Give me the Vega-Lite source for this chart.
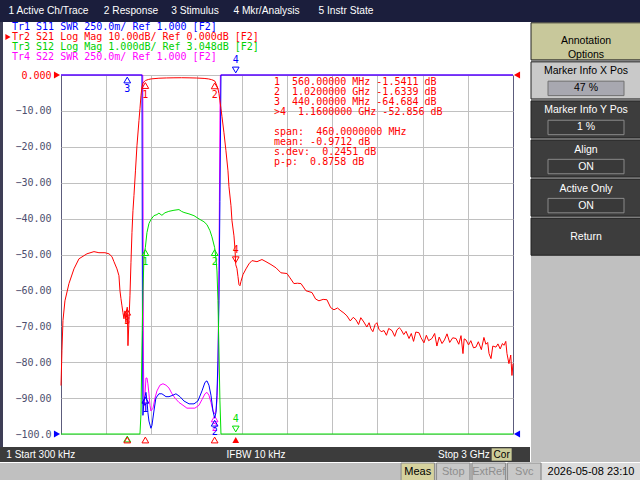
{
  "$schema": "https://vega.github.io/schema/vega-lite/v6.json",
  "background": "white",
  "padding": 0,
  "spacing": 0,
  "config": {"view": {"stroke": null}, "text": {"font": "Liberation Sans"}, "concat": {"spacing": 0}},
  "datasets": {
    "s21": [
      {"f": 0.3, "v": -86.5}, {"f": 6.6, "v": -76.8}, {"f": 13.3, "v": -68.4}, {"f": 26.5, "v": -62.9}, {"f": 53.1, "v": -58.1},
      {"f": 86.3, "v": -54.0}, {"f": 119.5, "v": -51.2}, {"f": 172.6, "v": -49.8}, {"f": 219, "v": -49.2}, {"f": 252, "v": -49.5},
      {"f": 292, "v": -49.5}, {"f": 318.6, "v": -49.8}, {"f": 338.5, "v": -50.6}, {"f": 351.8, "v": -52.0}, {"f": 371.7, "v": -54.0},
      {"f": 384.9, "v": -55.9}, {"f": 391.6, "v": -60.1}, {"f": 398.2, "v": -62.3}, {"f": 404.9, "v": -64.3}, {"f": 411.5, "v": -66.2},
      {"f": 418.1, "v": -67.9}, {"f": 424.8, "v": -65.7}, {"f": 431.4, "v": -69.0}, {"f": 434.7, "v": -66.2}, {"f": 440, "v": -64.684},
      {"f": 444.7, "v": -75.4}, {"f": 451.3, "v": -68.4}, {"f": 458, "v": -61.5}, {"f": 464.6, "v": -52.3}, {"f": 471.2, "v": -43.9},
      {"f": 477.9, "v": -37.8}, {"f": 484.5, "v": -33.6}, {"f": 494.5, "v": -26.7}, {"f": 504.4, "v": -19.7}, {"f": 517.7, "v": -12.7},
      {"f": 524.3, "v": -9.4}, {"f": 531, "v": -5.8}, {"f": 537.6, "v": -3.3}, {"f": 544.2, "v": -2.2}, {"f": 560, "v": -1.5411},
      {"f": 580, "v": -1.25}, {"f": 600, "v": -1.08}, {"f": 650, "v": -0.9}, {"f": 700, "v": -0.82}, {"f": 750, "v": -0.78},
      {"f": 800, "v": -0.76}, {"f": 850, "v": -0.79}, {"f": 900, "v": -0.84}, {"f": 950, "v": -0.95}, {"f": 980, "v": -1.1},
      {"f": 1000, "v": -1.3}, {"f": 1020, "v": -1.6339}, {"f": 1028.7, "v": -2.4}, {"f": 1042, "v": -3.8}, {"f": 1048.6, "v": -5.2},
      {"f": 1055, "v": -7.2}, {"f": 1062, "v": -9.4}, {"f": 1068.6, "v": -11.6}, {"f": 1081.8, "v": -16.1}, {"f": 1095, "v": -21.1},
      {"f": 1108.4, "v": -26.7}, {"f": 1115, "v": -31.1}, {"f": 1128.3, "v": -36.4}, {"f": 1135, "v": -40.6}, {"f": 1148.2, "v": -44.8},
      {"f": 1155, "v": -48.5}, {"f": 1160, "v": -52.856}, {"f": 1168, "v": -53.9}, {"f": 1174.7, "v": -56.1}, {"f": 1181.4, "v": -58.4},
      {"f": 1188, "v": -58.7}, {"f": 1194.7, "v": -57.5}, {"f": 1208, "v": -55.6}, {"f": 1228, "v": -54.0}, {"f": 1247.8, "v": -52.6},
      {"f": 1267.7, "v": -51.7}, {"f": 1300.9, "v": -52.0}, {"f": 1334, "v": -51.4}, {"f": 1360.6, "v": -52.0}, {"f": 1393.8, "v": -52.8},
      {"f": 1427, "v": -53.7}, {"f": 1460, "v": -55.1}, {"f": 1500, "v": -55.3}, {"f": 1520, "v": -56.5}, {"f": 1546, "v": -58.1},
      {"f": 1570, "v": -58.0}, {"f": 1593, "v": -58.1}, {"f": 1626, "v": -60.1}, {"f": 1666, "v": -60.6}, {"f": 1690, "v": -62.4},
      {"f": 1712, "v": -62.9}, {"f": 1740, "v": -62.5}, {"f": 1765, "v": -62.6}, {"f": 1790, "v": -64.8}, {"f": 1812, "v": -65.4},
      {"f": 1835, "v": -64.9}, {"f": 1858, "v": -65.7}, {"f": 1878, "v": -66.3}, {"f": 1898, "v": -67.1}, {"f": 1920, "v": -68.5},
      {"f": 1940, "v": -67.5}, {"f": 1958, "v": -68.2}, {"f": 1975, "v": -69.5}, {"f": 1990, "v": -67.6}, {"f": 2010, "v": -68.8},
      {"f": 2030, "v": -70.2}, {"f": 2045, "v": -69.0}, {"f": 2057, "v": -70.7}, {"f": 2070, "v": -71.5}, {"f": 2085, "v": -69.5},
      {"f": 2097, "v": -69.0}, {"f": 2110, "v": -70.8}, {"f": 2125, "v": -71.5}, {"f": 2144, "v": -71.2}, {"f": 2160, "v": -72.5},
      {"f": 2175, "v": -70.6}, {"f": 2197, "v": -71.2}, {"f": 2215, "v": -72.8}, {"f": 2230, "v": -71.0}, {"f": 2245, "v": -70.4},
      {"f": 2257, "v": -70.9}, {"f": 2275, "v": -72.3}, {"f": 2290, "v": -71.4}, {"f": 2310, "v": -73.4}, {"f": 2325, "v": -72.0},
      {"f": 2340, "v": -74.2}, {"f": 2355, "v": -71.6}, {"f": 2376, "v": -71.8}, {"f": 2390, "v": -73.2}, {"f": 2409, "v": -74.6},
      {"f": 2425, "v": -72.5}, {"f": 2440, "v": -74.0}, {"f": 2462, "v": -73.4}, {"f": 2480, "v": -72.0}, {"f": 2495, "v": -75.5},
      {"f": 2510, "v": -73.0}, {"f": 2529, "v": -74.8}, {"f": 2545, "v": -73.8}, {"f": 2562, "v": -72.1}, {"f": 2580, "v": -74.5},
      {"f": 2600, "v": -73.2}, {"f": 2622, "v": -73.4}, {"f": 2640, "v": -75.0}, {"f": 2655, "v": -72.6}, {"f": 2668, "v": -77.6},
      {"f": 2676, "v": -73.5}, {"f": 2688, "v": -73.8}, {"f": 2705, "v": -75.2}, {"f": 2720, "v": -74.0}, {"f": 2738, "v": -76.0},
      {"f": 2754, "v": -75.8}, {"f": 2770, "v": -74.3}, {"f": 2790, "v": -76.5}, {"f": 2807, "v": -73.1}, {"f": 2820, "v": -75.0},
      {"f": 2832, "v": -74.5}, {"f": 2841, "v": -77.6}, {"f": 2854, "v": -79.0}, {"f": 2866, "v": -75.5}, {"f": 2887, "v": -75.8},
      {"f": 2900, "v": -74.9}, {"f": 2915, "v": -76.3}, {"f": 2930, "v": -74.8}, {"f": 2940, "v": -75.3}, {"f": 2952, "v": -74.2},
      {"f": 2960, "v": -77.6}, {"f": 2973, "v": -80.4}, {"f": 2985, "v": -78.0}, {"f": 2993, "v": -83.7}, {"f": 3000, "v": -80.4}
    ],
    "s12": [
      {"f": 0.3, "v": -6.952}, {"f": 524.3, "v": -6.952}, {"f": 531, "v": -6.4}, {"f": 537.6, "v": -4.5}, {"f": 544.2, "v": -3.0},
      {"f": 551, "v": -2.01}, {"f": 560, "v": -1.76}, {"f": 570.8, "v": -1.34}, {"f": 584, "v": -1.09}, {"f": 597, "v": -0.98},
      {"f": 617, "v": -0.87}, {"f": 637, "v": -0.84}, {"f": 650, "v": -0.8}, {"f": 670, "v": -0.86}, {"f": 690, "v": -0.79},
      {"f": 716, "v": -0.75}, {"f": 750, "v": -0.72}, {"f": 783, "v": -0.7}, {"f": 800, "v": -0.75}, {"f": 816, "v": -0.78},
      {"f": 849.5, "v": -0.82}, {"f": 882.7, "v": -0.87}, {"f": 916, "v": -0.96}, {"f": 949, "v": -1.04}, {"f": 969, "v": -1.12},
      {"f": 989, "v": -1.29}, {"f": 1002, "v": -1.46}, {"f": 1020, "v": -1.76}, {"f": 1029, "v": -2.07}, {"f": 1035.4, "v": -2.41},
      {"f": 1042, "v": -3.24}, {"f": 1048.6, "v": -4.64}, {"f": 1055, "v": -6.03}, {"f": 1062, "v": -6.952}, {"f": 3000, "v": -6.952}
    ],
    "s11": [
      {"f": 0.3, "v": 3.5}, {"f": 537.6, "v": 3.5}, {"f": 541, "v": 1.72}, {"f": 544, "v": 1.13}, {"f": 551, "v": 1.23},
      {"f": 560, "v": 1.27}, {"f": 564, "v": 1.29}, {"f": 571, "v": 1.23}, {"f": 577, "v": 1.15}, {"f": 584, "v": 1.09},
      {"f": 597, "v": 1.04}, {"f": 604, "v": 1.06}, {"f": 617, "v": 1.16}, {"f": 630, "v": 1.25}, {"f": 650, "v": 1.28},
      {"f": 670, "v": 1.28}, {"f": 697, "v": 1.26}, {"f": 717, "v": 1.26}, {"f": 743, "v": 1.27}, {"f": 763, "v": 1.28},
      {"f": 790, "v": 1.26}, {"f": 816, "v": 1.23}, {"f": 850, "v": 1.21}, {"f": 883, "v": 1.21}, {"f": 909, "v": 1.23},
      {"f": 936, "v": 1.3}, {"f": 956, "v": 1.36}, {"f": 969, "v": 1.37}, {"f": 982, "v": 1.34}, {"f": 995.6, "v": 1.27},
      {"f": 1009, "v": 1.16}, {"f": 1020, "v": 1.11}, {"f": 1029, "v": 1.15}, {"f": 1035, "v": 1.27}, {"f": 1042, "v": 1.51},
      {"f": 1048.6, "v": 1.93}, {"f": 1055, "v": 2.62}, {"f": 1062, "v": 3.5}, {"f": 3000, "v": 3.5}
    ],
    "s22": [
      {"f": 0.3, "v": 3.5}, {"f": 543, "v": 3.5}, {"f": 547.5, "v": 1.51}, {"f": 551, "v": 1.2}, {"f": 557.6, "v": 1.27},
      {"f": 564, "v": 1.39}, {"f": 571, "v": 1.39}, {"f": 577, "v": 1.35}, {"f": 584, "v": 1.28}, {"f": 591, "v": 1.2},
      {"f": 597, "v": 1.16}, {"f": 611, "v": 1.18}, {"f": 624, "v": 1.25}, {"f": 637, "v": 1.3}, {"f": 657, "v": 1.34},
      {"f": 677, "v": 1.35}, {"f": 697, "v": 1.34}, {"f": 717, "v": 1.32}, {"f": 737, "v": 1.28}, {"f": 757, "v": 1.25},
      {"f": 783, "v": 1.22}, {"f": 810, "v": 1.2}, {"f": 836, "v": 1.18}, {"f": 863, "v": 1.18}, {"f": 889, "v": 1.18},
      {"f": 916, "v": 1.2}, {"f": 936, "v": 1.24}, {"f": 956, "v": 1.28}, {"f": 969, "v": 1.29}, {"f": 982, "v": 1.27},
      {"f": 995.6, "v": 1.22}, {"f": 1009, "v": 1.16}, {"f": 1020, "v": 1.14}, {"f": 1029, "v": 1.16}, {"f": 1035, "v": 1.23},
      {"f": 1042, "v": 1.44}, {"f": 1048.6, "v": 2.14}, {"f": 1055, "v": 3.18}, {"f": 1058, "v": 3.5}, {"f": 3000, "v": 3.5}
    ],
    "mk": [
      {"tr": "Tr1", "m": 1, "f": 560, "v": 1.27}, {"tr": "Tr1", "m": 2, "f": 1020, "v": 1.11},
      {"tr": "Tr1", "m": 3, "f": 440, "v": 3.5}, {"tr": "Tr1", "m": 4, "f": 1160, "v": 3.5},
      {"tr": "Tr2", "m": 1, "f": 560, "v": -1.5411}, {"tr": "Tr2", "m": 2, "f": 1020, "v": -1.6339},
      {"tr": "Tr2", "m": 3, "f": 440, "v": -64.684}, {"tr": "Tr2", "m": 4, "f": 1160, "v": -52.856},
      {"tr": "Tr3", "m": 1, "f": 560, "v": -1.76}, {"tr": "Tr3", "m": 2, "f": 1020, "v": -1.76},
      {"tr": "Tr3", "m": 3, "f": 440, "v": -6.952}, {"tr": "Tr3", "m": 4, "f": 1160, "v": -6.952},
      {"tr": "Tr4", "m": 1, "f": 560, "v": 1.27}, {"tr": "Tr4", "m": 2, "f": 1020, "v": 1.14},
      {"tr": "Tr4", "m": 3, "f": 440, "v": 3.5}, {"tr": "Tr4", "m": 4, "f": 1160, "v": 3.5}
    ],
    "refs": [
      {"tr": "Tr2", "side": "L", "f": 0.3, "v": 0}, {"tr": "Tr2", "side": "R", "f": 3000, "v": 0},
      {"tr": "Tr1", "side": "L", "f": 0.3, "v": 1}, {"tr": "Tr1", "side": "R", "f": 3000, "v": 1}
    ]
  },
  "vconcat": [
    {
      "hconcat": [
        {"width": 97, "height": 22, "view": {"fill": "#1b1e3c"}, "data": {"values": [{"item": "1 Active Ch/Trace"}]}, "mark": {"type": "text", "color": "white", "fontSize": 10.2}, "encoding": {"text": {"field": "item"}}},
        {"width": 68, "height": 22, "view": {"fill": "#1b1e3c"}, "data": {"values": [{"item": "2 Response"}]}, "mark": {"type": "text", "color": "white", "fontSize": 10.2}, "encoding": {"text": {"field": "item"}}},
        {"width": 60, "height": 22, "view": {"fill": "#1b1e3c"}, "data": {"values": [{"item": "3 Stimulus"}]}, "mark": {"type": "text", "color": "white", "fontSize": 10.2}, "encoding": {"text": {"field": "item"}}},
        {"width": 83, "height": 22, "view": {"fill": "#1b1e3c"}, "data": {"values": [{"item": "4 Mkr/Analysis"}]}, "mark": {"type": "text", "color": "white", "fontSize": 10.2}, "encoding": {"text": {"field": "item"}}},
        {"width": 76, "height": 22, "view": {"fill": "#1b1e3c"}, "data": {"values": [{"item": "5 Instr State"}]}, "mark": {"type": "text", "color": "white", "fontSize": 10.2}, "encoding": {"text": {"field": "item"}}},
        {"width": 256, "height": 22, "view": {"fill": "#1b1e3c"}, "data": {"values": []}, "mark": "text", "encoding": {}}
      ],
      "spacing": 0
    },
    {
      "hconcat": [
        {
          "vconcat": [
            {
              "hconcat": [
                {"width": 3, "height": 425, "view": {"fill": "#3e3e56"}, "data": {"values": []}, "mark": "text", "encoding": {}},
                {"width": 11, "height": 425, "view": {"fill": "white"}, "data": {"values": []}, "mark": "text", "encoding": {}},
                {
                  "vconcat": [
                    {"width": 452, "height": 32, "view": {"fill": "white"}, "data": {"values": []}, "mark": "text", "encoding": {}},
                    {
                      "width": 452,
                      "height": 359,
                      "view": {"stroke": "#5c5c7c", "fill": "white"},
                      "encoding": {
                        "x": {
                          "field": "f",
                          "type": "quantitative",
                          "scale": {"domain": [0.3, 3000], "nice": false, "zero": false},
                          "axis": {"values": [300, 600, 900, 1200, 1500, 1800, 2100, 2400, 2700], "grid": true, "gridColor": "#c0c0c0", "labels": false, "ticks": false, "domain": false, "title": null}
                        }
                      },
                      "layer": [
                        {
                          "data": {"name": "s22"},
                          "encoding": {"y": {"field": "v", "type": "quantitative", "scale": {"domain": [1, 3.5], "nice": false, "zero": false}, "axis": null}},
                          "layer": [
                            {
                              "mark": {"type": "line", "strokeWidth": 1},
                              "encoding": {
                                "color": {
                                  "datum": "Tr4",
                                  "scale": {"domain": ["Tr1", "Tr2", "Tr3", "Tr4"], "range": ["#0000ff", "#ff0000", "#00e000", "#ff00ff"]},
                                  "legend": {
                                    "orient": "none", "legendX": 3, "legendY": 22, "direction": "vertical", "title": null,
                                    "padding": 0, "rowPadding": 0, "labelFont": "DejaVu Sans Mono", "labelFontSize": 10, "labelLimit": 400,
                                    "labelOffset": -1, "symbolType": "triangle-right", "symbolSize": 36, "symbolStrokeWidth": 0,
                                    "labelExpr": "datum.label == 'Tr1' ? 'Tr1 S11 SWR 250.0m/ Ref 1.000 [F2]' : datum.label == 'Tr2' ? 'Tr2 S21 Log Mag 10.00dB/ Ref 0.000dB [F2]' : datum.label == 'Tr3' ? 'Tr3 S12 Log Mag 1.000dB/ Ref 3.048dB [F2]' : 'Tr4 S22 SWR 250.0m/ Ref 1.000 [F2]'",
                                    "encode": {
                                      "labels": {"update": {"fill": {"signal": "datum.value == 'Tr1' ? '#0000ff' : datum.value == 'Tr2' ? '#ff0000' : datum.value == 'Tr3' ? '#00d000' : '#ff00ff'"}}},
                                      "symbols": {"update": {"fill": {"value": "#ff0000"}, "opacity": {"signal": "datum.value == 'Tr2' ? 1 : 0"}}}
                                    }
                                  }
                                }
                              }
                            },
                            {"data": {"name": "mk"}, "transform": [{"filter": "datum.tr == 'Tr4' && datum.m < 3"}], "mark": {"type": "point", "shape": "triangle-up", "filled": false, "size": 45, "opacity": 1, "strokeWidth": 1, "yOffset": 5}, "encoding": {"color": {"datum": "Tr4"}}},
                            {"data": {"name": "mk"}, "transform": [{"filter": "datum.tr == 'Tr4' && datum.m < 3"}], "mark": {"type": "text", "font": "DejaVu Sans Mono", "fontSize": 10, "yOffset": 14}, "encoding": {"text": {"field": "m", "type": "nominal"}, "color": {"datum": "Tr4"}}}
                          ]
                        },
                        {
                          "data": {"name": "s11"},
                          "encoding": {"y": {"field": "v", "type": "quantitative", "scale": {"domain": [1, 3.5], "nice": false, "zero": false}, "axis": null}},
                          "layer": [
                            {"mark": {"type": "line", "strokeWidth": 1}, "encoding": {"color": {"datum": "Tr1"}}},
                            {"data": {"name": "refs"}, "transform": [{"filter": "datum.tr == 'Tr1' && datum.side == 'L'"}], "mark": {"type": "point", "shape": "triangle-right", "filled": true, "size": 50, "opacity": 1, "xOffset": -4}, "encoding": {"color": {"datum": "Tr1"}}},
                            {"data": {"name": "refs"}, "transform": [{"filter": "datum.tr == 'Tr1' && datum.side == 'R'"}], "mark": {"type": "point", "shape": "triangle-left", "filled": true, "size": 50, "opacity": 1, "xOffset": 4}, "encoding": {"color": {"datum": "Tr1"}}},
                            {"data": {"name": "mk"}, "transform": [{"filter": "datum.tr == 'Tr1' && datum.m < 4"}], "mark": {"type": "point", "shape": "triangle-up", "filled": false, "size": 45, "opacity": 1, "strokeWidth": 1, "yOffset": 5}, "encoding": {"color": {"datum": "Tr1"}}},
                            {"data": {"name": "mk"}, "transform": [{"filter": "datum.tr == 'Tr1' && datum.m < 4"}], "mark": {"type": "text", "font": "DejaVu Sans Mono", "fontSize": 10, "yOffset": 14}, "encoding": {"text": {"field": "m", "type": "nominal"}, "color": {"datum": "Tr1"}}},
                            {"data": {"name": "mk"}, "transform": [{"filter": "datum.tr == 'Tr1' && datum.m == 4"}], "mark": {"type": "point", "shape": "triangle-down", "filled": false, "size": 45, "opacity": 1, "strokeWidth": 1, "yOffset": -5}, "encoding": {"color": {"datum": "Tr1"}}},
                            {"data": {"name": "mk"}, "transform": [{"filter": "datum.tr == 'Tr1' && datum.m == 4"}], "mark": {"type": "text", "font": "DejaVu Sans Mono", "fontSize": 10, "yOffset": -15}, "encoding": {"text": {"field": "m", "type": "nominal"}, "color": {"datum": "Tr1"}}}
                          ]
                        },
                        {
                          "data": {"name": "s12"},
                          "encoding": {"y": {"field": "v", "type": "quantitative", "scale": {"domain": [-6.952, 3.048], "nice": false, "zero": false}, "axis": null}},
                          "layer": [
                            {"mark": {"type": "line", "strokeWidth": 1}, "encoding": {"color": {"datum": "Tr3"}}},
                            {"data": {"name": "mk"}, "transform": [{"filter": "datum.tr == 'Tr3' && datum.m < 4"}], "mark": {"type": "point", "shape": "triangle-up", "filled": false, "size": 45, "opacity": 1, "strokeWidth": 1, "yOffset": 5}, "encoding": {"color": {"datum": "Tr3"}}},
                            {"data": {"name": "mk"}, "transform": [{"filter": "datum.tr == 'Tr3' && datum.m < 3"}], "mark": {"type": "text", "font": "DejaVu Sans Mono", "fontSize": 10, "yOffset": 14}, "encoding": {"text": {"field": "m", "type": "nominal"}, "color": {"datum": "Tr3"}}},
                            {"data": {"name": "mk"}, "transform": [{"filter": "datum.tr == 'Tr3' && datum.m == 4"}], "mark": {"type": "point", "shape": "triangle-down", "filled": false, "size": 45, "opacity": 1, "strokeWidth": 1, "yOffset": -5}, "encoding": {"color": {"datum": "Tr3"}}},
                            {"data": {"name": "mk"}, "transform": [{"filter": "datum.tr == 'Tr3' && datum.m == 4"}], "mark": {"type": "text", "font": "DejaVu Sans Mono", "fontSize": 10, "yOffset": -15}, "encoding": {"text": {"field": "m", "type": "nominal"}, "color": {"datum": "Tr3"}}}
                          ]
                        },
                        {
                          "data": {"name": "s21"},
                          "encoding": {
                            "y": {
                              "field": "v",
                              "type": "quantitative",
                              "scale": {"domain": [-100, 0], "nice": false, "zero": false},
                              "axis": {
                                "orient": "left", "values": [0, -10, -20, -30, -40, -50, -60, -70, -80, -90, -100], "format": ".4g",
                                "grid": true, "gridColor": "#c0c0c0", "ticks": false, "tickSize": 0, "domain": false, "title": null,
                                "labelPadding": 10, "labelFont": "DejaVu Sans Mono", "labelFontSize": 10,
                                "labelColor": {"condition": {"test": "datum.value == 0", "value": "#ff0000"}, "value": "#4e4e6e"}
                              }
                            }
                          },
                          "layer": [
                            {"mark": {"type": "line", "strokeWidth": 1}, "encoding": {"color": {"datum": "Tr2"}}},
                            {"data": {"name": "refs"}, "transform": [{"filter": "datum.tr == 'Tr2' && datum.side == 'L'"}], "mark": {"type": "point", "shape": "triangle-right", "filled": true, "size": 50, "opacity": 1, "xOffset": -4}, "encoding": {"color": {"datum": "Tr2"}}},
                            {"data": {"name": "refs"}, "transform": [{"filter": "datum.tr == 'Tr2' && datum.side == 'R'"}], "mark": {"type": "point", "shape": "triangle-left", "filled": true, "size": 50, "opacity": 1, "xOffset": 4}, "encoding": {"color": {"datum": "Tr2"}}},
                            {"data": {"name": "mk"}, "transform": [{"filter": "datum.tr == 'Tr2' && datum.m < 4"}], "mark": {"type": "point", "shape": "triangle-up", "filled": false, "size": 45, "opacity": 1, "strokeWidth": 1, "yOffset": 5}, "encoding": {"color": {"datum": "Tr2"}}},
                            {"data": {"name": "mk"}, "transform": [{"filter": "datum.tr == 'Tr2' && datum.m < 4"}], "mark": {"type": "text", "font": "DejaVu Sans Mono", "fontSize": 10, "yOffset": 14}, "encoding": {"text": {"field": "m", "type": "nominal"}, "color": {"datum": "Tr2"}}},
                            {"data": {"name": "mk"}, "transform": [{"filter": "datum.tr == 'Tr2' && datum.m == 4"}], "mark": {"type": "point", "shape": "triangle-down", "filled": false, "size": 45, "opacity": 1, "strokeWidth": 1, "yOffset": -5}, "encoding": {"color": {"datum": "Tr2"}}},
                            {"data": {"name": "mk"}, "transform": [{"filter": "datum.tr == 'Tr2' && datum.m == 4"}], "mark": {"type": "text", "font": "DejaVu Sans Mono", "fontSize": 10, "yOffset": -15}, "encoding": {"text": {"field": "m", "type": "nominal"}, "color": {"datum": "Tr2"}}},
                            {"data": {"name": "mk"}, "transform": [{"filter": "datum.tr == 'Tr2' && datum.m < 4"}], "mark": {"type": "point", "shape": "triangle-up", "filled": false, "size": 45, "opacity": 1, "strokeWidth": 1, "yOffset": 6}, "encoding": {"y": {"datum": -100}, "color": {"datum": "Tr2"}}},
                            {"data": {"name": "mk"}, "transform": [{"filter": "datum.tr == 'Tr2' && datum.m == 4"}], "mark": {"type": "point", "shape": "triangle-up", "filled": true, "size": 45, "opacity": 1, "yOffset": 6}, "encoding": {"y": {"datum": -100}, "color": {"datum": "Tr2"}}},
                            {
                              "data": {"name": "mk"},
                              "transform": [{"filter": "false"}],
                              "mark": {"type": "point", "opacity": 0},
                              "encoding": {
                                "shape": {
                                  "field": "tr",
                                  "type": "nominal",
                                  "scale": {
                                    "domain": [
                                      "\u20071\u00a0\u00a0560.00000\u00a0MHz\u00a0-1.5411\u00a0dB",
                                      "\u20072\u00a0\u00a01.0200000\u00a0GHz\u00a0-1.6339\u00a0dB",
                                      "\u20073\u00a0\u00a0440.00000\u00a0MHz\u00a0-64.684\u00a0dB",
                                      ">4\u00a0\u00a01.1600000\u00a0GHz\u00a0-52.856\u00a0dB",
                                      "\u2007",
                                      "\u2007span:\u00a0\u00a0460.0000000\u00a0MHz",
                                      "\u2007mean:\u00a0-0.9712\u00a0dB",
                                      "s.dev:\u00a0\u00a00.2451\u00a0dB",
                                      "\u2007\u2007p-p:\u00a0\u00a00.8758\u00a0dB"
                                    ],
                                    "range": ["circle", "circle", "circle", "circle", "circle", "circle", "circle", "circle", "circle"]
                                  },
                                  "legend": {
                                    "orient": "none", "legendX": 265, "legendY": 77.3, "direction": "vertical", "title": null,
                                    "padding": 0, "rowPadding": 0, "labelFont": "DejaVu Sans Mono", "labelFontSize": 10, "labelLimit": 400,
                                    "labelColor": "#ff0000", "labelOffset": -1, "symbolSize": 36, "symbolOpacity": 0, "symbolStrokeWidth": 0
                                  }
                                }
                              }
                            }
                          ]
                        }
                      ],
                      "resolve": {"scale": {"y": "independent"}, "axis": {"y": "independent"}}
                    }
                  ],
                  "spacing": 0
                }
              ],
              "spacing": 0
            },
            {
              "width": 530,
              "height": 15,
              "view": {"fill": "#3c3c3c"},
              "data": {"values": [{"slot": "a", "t": "1 Start 300 kHz"}, {"slot": "b", "t": "IFBW 10 kHz"}, {"slot": "c", "t": "Stop 3 GHz"}]},
              "encoding": {"x": {"field": "slot", "type": "nominal", "axis": null, "scale": {"paddingInner": 0, "paddingOuter": 0}}},
              "layer": [
                {"transform": [{"filter": "datum.slot == 'a'"}], "mark": {"type": "text", "align": "left", "color": "white", "fontSize": 10, "dx": -82}, "encoding": {"text": {"field": "t"}}},
                {"transform": [{"filter": "datum.slot == 'b'"}], "mark": {"type": "text", "align": "center", "color": "white", "fontSize": 10, "dx": -9}, "encoding": {"text": {"field": "t"}}},
                {"transform": [{"filter": "datum.slot == 'c'"}], "mark": {"type": "text", "align": "right", "color": "white", "fontSize": 10, "dx": 48}, "encoding": {"text": {"field": "t"}}},
                {"transform": [{"filter": "datum.slot == 'c'"}], "mark": {"type": "point", "shape": "M-1,-0.62H1V0.62H-1Z", "size": 400, "filled": true, "opacity": 1, "color": "#cccc99", "xOffset": 60}},
                {"transform": [{"filter": "datum.slot == 'c'"}], "mark": {"type": "text", "align": "center", "color": "black", "fontSize": 10, "dx": 60}, "encoding": {"text": {"value": "Cor"}}}
              ]
            }
          ],
          "spacing": 0
        },
        {
          "vconcat": [
            {
              "width": 110,
              "height": 234,
              "view": {"fill": "#bcbcbc"},
              "data": {"values": [
                {"k": 1, "label": "Annotation\nOptions", "val": "", "kind": "head"},
                {"k": 2, "label": "Marker Info X Pos", "val": "47 %", "kind": "sel"},
                {"k": 3, "label": "Marker Info Y Pos", "val": "1 %", "kind": "key"},
                {"k": 4, "label": "Align", "val": "ON", "kind": "key"},
                {"k": 5, "label": "Active Only", "val": "ON", "kind": "key"},
                {"k": 6, "label": "Return", "val": "", "kind": "key"}
              ]},
              "encoding": {"y": {"field": "k", "type": "ordinal", "axis": null, "scale": {"paddingInner": 0.05, "paddingOuter": 0.02}}},
              "layer": [
                {
                  "mark": {"type": "rect", "stroke": "#222222", "strokeWidth": 1},
                  "encoding": {"color": {"condition": [{"test": "datum.kind == 'head'", "value": "#c8c89b"}, {"test": "datum.kind == 'sel'", "value": "#c9c9c9"}], "value": "#3d3d3d"}}
                },
                {
                  "transform": [{"filter": "datum.val != ''"}],
                  "mark": {"type": "point", "shape": "M-1,-0.19H1V0.19H-1Z", "size": 5776, "filled": true, "opacity": 1, "strokeWidth": 1, "yOffset": 8},
                  "encoding": {
                    "fill": {"condition": {"test": "datum.kind == 'sel'", "value": "#a8a8b0"}, "value": "#393939"},
                    "stroke": {"condition": {"test": "datum.kind == 'sel'", "value": "#707070"}, "value": "#8a8a8a"}
                  }
                },
                {
                  "transform": [{"filter": "datum.val != ''"}],
                  "mark": {"type": "text", "fontSize": 10.5, "yOffset": -9},
                  "encoding": {"text": {"field": "label"}, "color": {"condition": {"test": "datum.kind == 'key'", "value": "white"}, "value": "black"}}
                },
                {
                  "transform": [{"filter": "datum.val == ''"}],
                  "mark": {"type": "text", "fontSize": 10.5, "lineBreak": "\n", "lineHeight": 14},
                  "encoding": {"text": {"field": "label"}, "color": {"condition": {"test": "datum.kind == 'key'", "value": "white"}, "value": "black"}}
                },
                {
                  "transform": [{"filter": "datum.val != ''"}],
                  "mark": {"type": "text", "fontSize": 10.5, "yOffset": 8},
                  "encoding": {"text": {"field": "val"}, "color": {"condition": {"test": "datum.kind == 'key'", "value": "white"}, "value": "black"}}
                }
              ]
            },
            {"width": 110, "height": 206, "view": {"fill": "#c0c0c0"}, "data": {"values": []}, "mark": "text", "encoding": {}}
          ],
          "spacing": 0
        }
      ],
      "spacing": 0
    },
    {
      "hconcat": [
        {"width": 400, "height": 18, "view": {"fill": "#c0c0c0"}, "data": {"values": []}, "mark": "text", "encoding": {}},
        {
          "width": 142,
          "height": 18,
          "view": {"fill": "#c0c0c0"},
          "data": {"values": [{"s": "Meas"}, {"s": "Stop"}, {"s": "ExtRef"}, {"s": "Svc"}]},
          "encoding": {"x": {"field": "s", "type": "nominal", "sort": null, "axis": null, "scale": {"paddingInner": 0.06, "paddingOuter": 0.03}}},
          "layer": [
            {"mark": {"type": "rect", "stroke": "#8c8c8c", "strokeWidth": 1}, "encoding": {"color": {"condition": {"test": "datum.s == 'Meas'", "value": "#d6d29e"}, "value": "#c8c8c8"}}},
            {"mark": {"type": "text", "fontSize": 11}, "encoding": {"text": {"field": "s"}, "color": {"condition": {"test": "datum.s == 'Meas'", "value": "black"}, "value": "#8e8e8e"}}}
          ]
        },
        {
          "width": 98,
          "height": 18,
          "view": {"fill": "#dcdcdc"},
          "data": {"values": [{"d": "2026-05-08 23:10"}]},
          "mark": {"type": "text", "fontSize": 11, "color": "black"},
          "encoding": {"text": {"field": "d"}}
        }
      ],
      "spacing": 0
    }
  ]
}
